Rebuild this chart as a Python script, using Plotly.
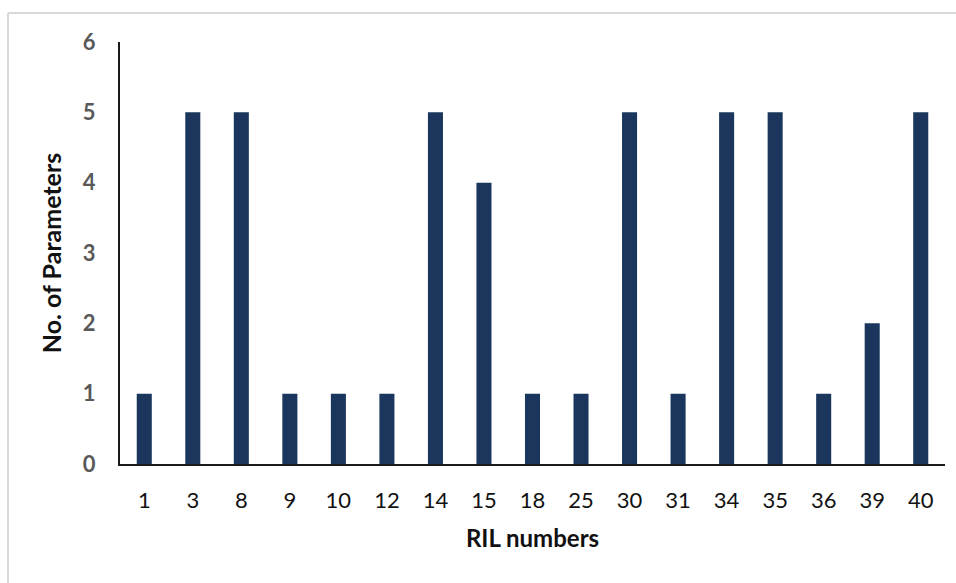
import plotly.graph_objects as go

ril_numbers = ["1", "3", "8", "9", "10", "12", "14", "15", "18", "25",
               "30", "31", "34", "35", "36", "39", "40"]
parameter_counts = [1, 5, 5, 1, 1, 1, 5, 4, 1, 1, 5, 1, 5, 5, 1, 2, 5]
y_ticks = [0, 1, 2, 3, 4, 5, 6]

W, H = 956, 583
L, R, T, B = 120, 11, 42, 119
plot_w = W - L - R
plot_h = H - T - B

fig = go.Figure(go.Bar(
    x=ril_numbers,
    y=parameter_counts,
    marker=dict(color="#1a365d", line=dict(width=0)),
))

# light frame around the chart area (top and left edges)
fx = (8 - L) / plot_w
fy = (H - B - 13) / plot_h
frame = dict(color="#d9d9d9", width=2)
fig.add_shape(type="line", xref="paper", yref="paper",
              x0=fx, x1=fx, y0=-0.5, y1=fy, line=frame)
fig.add_shape(type="line", xref="paper", yref="paper",
              x0=fx, x1=1.1, y0=fy, y1=fy, line=frame)

font_family = "Lato, 'Open Sans', sans-serif"

fig.update_layout(
    width=W, height=H,
    margin=dict(l=L, r=R, t=T, b=B),
    paper_bgcolor="white",
    plot_bgcolor="white",
    showlegend=False,
    bargap=0.69,
    font=dict(family=font_family),
    xaxis=dict(
        type="category",
        showgrid=False,
        showline=True, linecolor="#1a1a1a", linewidth=2,
        ticks="", ticklabelstandoff=16,
        tickfont=dict(size=22, color="#111111"),
        title=dict(text="<b>RIL numbers</b>", standoff=18,
                   font=dict(size=24, color="#111111")),
    ),
    yaxis=dict(
        range=[0, 6],
        tickvals=y_ticks,
        showgrid=False, zeroline=False,
        showline=True, linecolor="#1a1a1a", linewidth=2,
        ticks="", ticklabelstandoff=18,
        tickfont=dict(size=22, color="#595959", weight="bold"),
        title=dict(text="<b>No. of Parameters</b>", standoff=14,
                   font=dict(size=25, color="#111111")),
    ),
)

fig.write_html("out.html")
